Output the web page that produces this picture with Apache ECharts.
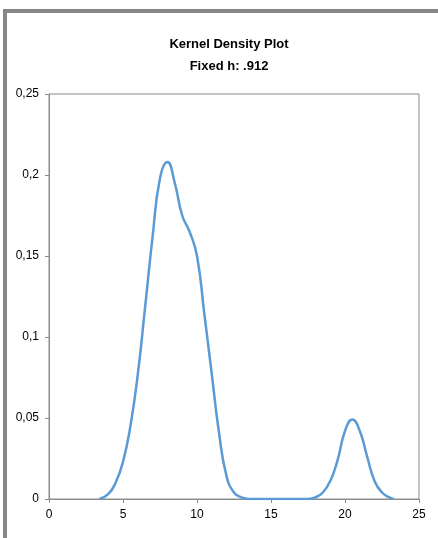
<!DOCTYPE html>
<html>
<head>
<meta charset="utf-8">
<script src="https://cdn.jsdelivr.net/npm/echarts@6/dist/echarts.min.js"></script>
<style>
  html, body { margin: 0; padding: 0; background: #fff; }
  #chart { width: 438px; height: 538px; }
</style>
</head>
<body>
<div id="chart"></div>
<script>
// 密度曲线取样点 (x, 密度)，按 0.5 等间距读取
const xs = [3.4, 4.0, 4.5, 5.0, 5.5, 6.0, 6.5, 7.0, 7.5, 8.0, 8.5, 9.0, 9.5, 10.0, 10.5, 11.0, 11.5, 12.0, 12.5, 13.0, 13.5, 14.0, 14.5, 15.0, 15.5, 16.0, 16.5, 17.0, 17.5, 18.0, 18.5, 19.0, 19.5, 20.0, 20.5, 21.0, 21.5, 22.0, 22.5, 23.0, 23.3]
const density = [0, 0.003, 0.010, 0.023, 0.045, 0.077, 0.119, 0.162, 0.198, 0.208, 0.195, 0.175, 0.165, 0.150, 0.114, 0.077, 0.040, 0.014, 0.004, 0.001, 0, 0, 0, 0, 0, 0, 0, 0, 0, 0.001, 0.004, 0.011, 0.024, 0.042, 0.049, 0.042, 0.026, 0.011, 0.004, 0.001, 0]

// 坐标轴刻度标签
const xTicks = ['0', '5', '10', '15', '20', '25']
const yTicks = ['0', '0,05', '0,1', '0,15', '0,2', '0,25']

const titleLines = ['Kernel Density Plot', 'Fixed h: .912']

const font = '"Liberation Sans Narrow", "Liberation Sans", sans-serif'

const chart = echarts.init(document.getElementById('chart'))

const option = {
  animation: false,
  title: {
    text: titleLines.join('\n'),
    left: 224,
    top: 28,
    textAlign: 'center',
    textStyle: {
      fontFamily: font,
      fontWeight: 'bold',
      fontSize: 13,
      lineHeight: 22,
      color: '#000',
    },
  },
  graphic: [
    {
      type: 'rect',
      shape: { x: 5, y: 11, width: 480, height: 600 },
      style: { fill: 'none', stroke: '#878787', lineWidth: 4 },
      silent: true,
    },
  ],
  grid: {
    left: 49,
    right: 19,
    top: 94,
    bottom: 39,
    show: true,
    borderColor: '#8c8c8c',
    borderWidth: 1,
  },
  xAxis: {
    type: 'value',
    min: 0,
    max: 25,
    interval: 5,
    splitLine: { show: false },
    axisLine: { onZero: false, lineStyle: { color: '#8c8c8c', width: 1 } },
    axisTick: { show: true, length: 4, lineStyle: { color: '#8c8c8c' } },
    axisLabel: {
      fontFamily: font,
      fontSize: 12,
      color: '#000',
      margin: 10,
      formatter: (v) => xTicks[Math.round(v / 5)],
    },
  },
  yAxis: {
    type: 'value',
    min: 0,
    max: 0.25,
    interval: 0.05,
    splitLine: { show: false },
    axisLine: { show: true, lineStyle: { color: '#8c8c8c', width: 1 } },
    axisTick: { show: true, length: 4, lineStyle: { color: '#8c8c8c' } },
    axisLabel: {
      fontFamily: font,
      fontSize: 12,
      color: '#000',
      margin: 10,
      formatter: (v) => yTicks[Math.round(v / 0.05)],
    },
  },
  series: [
    {
      type: 'line',
      data: xs.map((x, i) => [x, density[i]]),
      smooth: 0.5,
      showSymbol: false,
      lineStyle: { color: '#5b9bd5', width: 2.5 },
    },
  ],
}

chart.setOption(option)
</script>
</body>
</html>
